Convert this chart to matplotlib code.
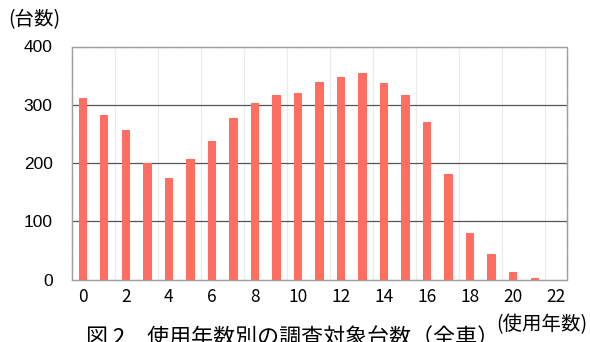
import matplotlib
matplotlib.use("Agg")
import matplotlib.pyplot as plt
import numpy as np

plt.rcParams['font.family'] = ['Liberation Sans', 'Noto Sans CJK JP', 'DejaVu Sans']

# Number of vehicles surveyed by years in use (all vehicles)
years = list(range(0, 23))
counts = [312, 282, 256, 200, 174, 207, 238, 277, 303, 317, 321, 339, 348, 355,
          337, 317, 271, 181, 80, 44, 13, 2, 0]
y_ticks = [0, 100, 200, 300, 400]
x_tick_labels = [str(v) for v in range(0, 23, 2)]

bar_color = '#FF6E61'

fig = plt.figure(figsize=(5.9, 3.42), dpi=100)
ax = fig.add_axes([72 / 590, 1 - 279.5 / 342, 495 / 590, 233 / 342])

ax.bar(years, counts, width=0.39, color=bar_color, zorder=3)

ax.set_xlim(-0.5, 22.5)
ax.set_ylim(0, 400)

# faint vertical separators every two categories
for xv in np.arange(1.5, 22.5, 2):
    ax.axvline(xv, color='#ececec', lw=0.8, zorder=1)
# horizontal gridlines
for yv in y_ticks[1:-1]:
    ax.axhline(yv, color='#555555', lw=0.9, zorder=2)

for s in ax.spines.values():
    s.set_color('#a0a0a0')
    s.set_linewidth(1.0)
    s.set_linestyle((0, (1, 0.6)))

ax.set_yticks(y_ticks)
ax.set_yticklabels([str(v) for v in y_ticks], fontsize=12.5)
ax.set_xticks(range(0, 23, 2))
ax.set_xticklabels(x_tick_labels, fontsize=12.5, family=['Noto Sans CJK JP'])
ax.tick_params(axis='y', length=0, pad=14)
ax.tick_params(axis='x', length=0, pad=6)

fig.text(8 / 590, 1 - 20 / 342, '(台数)', fontsize=14, va='center', ha='left',
         family=['Noto Sans CJK JP'])
fig.text(587 / 590, 1 - 325 / 342, '(使用年数)', fontsize=14, va='center', ha='right',
         family=['Noto Sans CJK JP'])
fig.text(86 / 590, 1 - 328 / 342, '図 2　使用年数別の調査対象台数（全車）', fontsize=15.8,
         va='top', ha='left', family=['Noto Sans CJK JP'])

fig.savefig('out.png', dpi=100)
